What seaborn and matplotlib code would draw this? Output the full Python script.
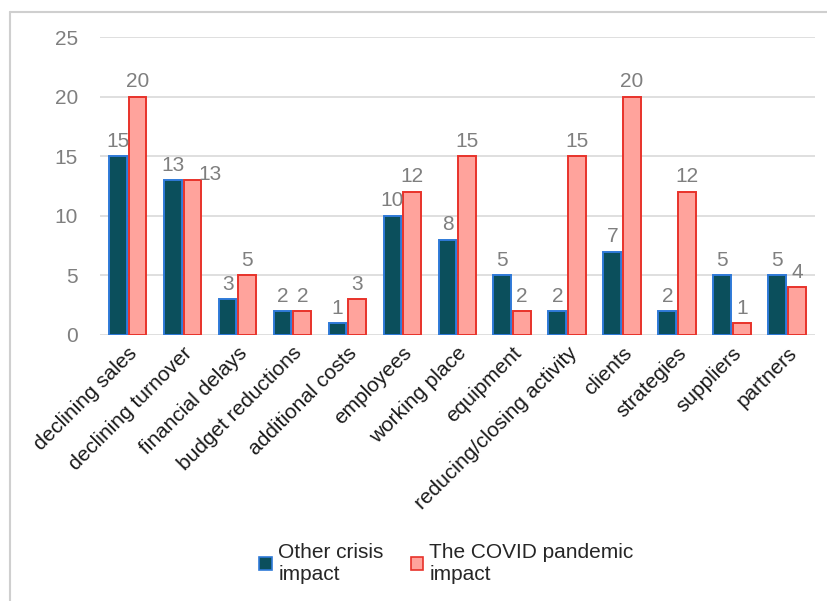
import pandas as pd
import matplotlib.pyplot as plt
import seaborn as sns
from matplotlib.lines import Line2D
from matplotlib.patches import Patch

# data
categories = ['declining sales', 'declining turnover', 'financial delays',
              'budget reductions', 'additional costs', 'employees',
              'working place', 'equipment', 'reducing/closing activity',
              'clients', 'strategies', 'suppliers', 'partners']
other_crisis = [15, 13, 3, 2, 1, 10, 8, 5, 2, 7, 2, 5, 5]
covid = [20, 13, 5, 2, 3, 12, 15, 2, 15, 20, 12, 1, 4]
series_names = ['Other crisis\nimpact', 'The COVID pandemic\nimpact']

df = pd.DataFrame({
    'category': categories * 2,
    'value': other_crisis + covid,
    'series': [series_names[0]] * len(categories) + [series_names[1]] * len(categories),
})

sns.set_style('white')
plt.rcParams['font.family'] = ['Liberation Sans', 'DejaVu Sans']

fig = plt.figure(figsize=(8.27, 6.01), dpi=100)
ax = fig.add_axes([0.121, 0.4426, 0.864, 0.4956])

fills = ['#0b4f5c', '#ffa39c']
edges = ['#2f7ad8', '#e8322a']

sns.barplot(data=df, x='category', y='value', hue='series',
            palette=fills, saturation=1, width=0.72, gap=0.1, ax=ax,
            legend=False, linewidth=1.4)

labels = []
for cont, ec in zip(ax.containers, edges):
    for bar in cont:
        bar.set_edgecolor(ec)
    labels.append(ax.bar_label(cont, padding=4, fontsize=15, color='#7f7f7f'))

# the two "13" labels would collide: nudge the COVID one right and down
labels[1][1].xyann = (13, -3)

ax.set_ylim(0, 25)
ax.set_yticks(range(0, 26, 5))
ax.yaxis.grid(True, color='#d9d9d9', linewidth=1.2)
ax.set_axisbelow(True)
for side in ['top', 'right', 'left', 'bottom']:
    ax.spines[side].set_visible(False)
ax.set_xlabel('')
ax.set_ylabel('')
ax.tick_params(axis='y', labelsize=15, labelcolor='#7f7f7f', length=0, pad=16)
ax.tick_params(axis='x', labelsize=15, labelcolor='#1a1a1a', length=0, pad=6)
plt.setp(ax.get_xticklabels(), rotation=45, ha='right', rotation_mode='anchor')

# outer frame (left and top edges only visible in the picture)
fig.add_artist(Line2D([0.012, 0.012], [0.0, 0.980], transform=fig.transFigure,
                      color='#cfcfcf', linewidth=1.5))
fig.add_artist(Line2D([0.012, 1.0], [0.980, 0.980], transform=fig.transFigure,
                      color='#cfcfcf', linewidth=1.5))

handles = [Patch(facecolor=f, edgecolor=e, linewidth=1.2) for f, e in zip(fills, edges)]
fig.legend(handles, series_names, loc='center', bbox_to_anchor=(0.54, 0.063),
           ncol=2, frameon=False, fontsize=15, handlelength=0.6, handleheight=0.6,
           handletextpad=0.3, columnspacing=1.3, labelspacing=0.2)

fig.savefig('out.png', dpi=100, facecolor='white')
